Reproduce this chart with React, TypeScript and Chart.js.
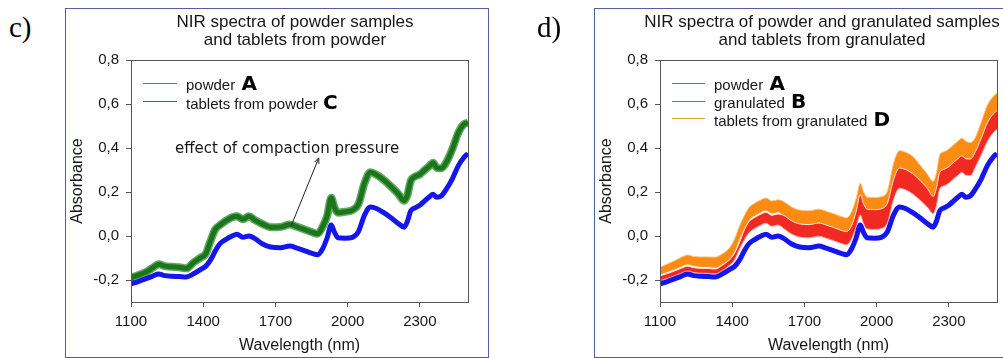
import React, { useEffect, useRef } from "react";
import { Chart, registerables } from "chart.js";

Chart.register(...registerables);

// ---------- data ----------
const wavelengths = [
  1100, 1130, 1160, 1190, 1215, 1240, 1270, 1300, 1330, 1360, 1390,
  1410, 1430, 1450, 1470, 1495, 1520, 1540, 1565, 1590,
  1615, 1645, 1680, 1720, 1760, 1790, 1820, 1850, 1875, 1895,
  1915, 1932, 1945, 1960, 1990, 2020, 2045, 2070, 2095, 2120,
  2150, 2180, 2210, 2235, 2248, 2262, 2280, 2300, 2320, 2340,
  2355, 2370, 2390, 2410, 2435, 2460, 2485, 2500,
];

// powder A (mean of the blue bundle)
const powder = [
  -0.217, -0.207, -0.195, -0.182, -0.173, -0.18, -0.183, -0.184, -0.186, -0.172, -0.152,
  -0.138, -0.11, -0.068, -0.035, -0.015, 0.0, 0.008, -0.006, 0.0,
  -0.012, -0.035, -0.05, -0.053, -0.046, -0.055, -0.066, -0.078, -0.085, -0.06,
  -0.008, 0.05, 0.018, -0.008, -0.01, -0.006, 0.02, 0.095, 0.132, 0.125,
  0.106, 0.083, 0.057, 0.04, 0.066, 0.114, 0.128, 0.14, 0.16, 0.178,
  0.19, 0.176, 0.183, 0.213, 0.26, 0.32, 0.36, 0.375,
];

// tablets from powder C (mean of the green bundle)
const tabletsFromPowder = [
  -0.19, -0.178, -0.165, -0.145, -0.128, -0.137, -0.14, -0.142, -0.147, -0.12, -0.098,
  -0.082, -0.023, 0.03, 0.05, 0.07, 0.085, 0.09, 0.076, 0.09,
  0.072, 0.055, 0.04, 0.041, 0.052, 0.042, 0.03, 0.018, 0.01, 0.04,
  0.092, 0.174, 0.13, 0.106, 0.11, 0.118, 0.145, 0.24, 0.29, 0.278,
  0.255, 0.225, 0.192, 0.16, 0.185, 0.25, 0.27, 0.28, 0.3, 0.318,
  0.333, 0.31, 0.308, 0.335, 0.395, 0.47, 0.51, 0.515,
];

// granulated B (lower / upper edge of the red bundle)
const granulatedLow = [
  -0.203, -0.193, -0.181, -0.168, -0.159, -0.166, -0.169, -0.17, -0.172, -0.156, -0.132,
  -0.108, -0.06, -0.018, 0.015, 0.035, 0.05, 0.058, 0.044, 0.05,
  0.033, 0.01, -0.005, -0.008, -0.001, -0.01, -0.021, -0.033, -0.04, -0.015,
  0.042, 0.096, 0.058, 0.032, 0.03, 0.034, 0.06, 0.165, 0.217, 0.21,
  0.191, 0.163, 0.132, 0.102, 0.136, 0.214, 0.228, 0.24, 0.26, 0.278,
  0.29, 0.276, 0.275, 0.313, 0.37, 0.43, 0.47, 0.485,
];
const granulatedHigh = [
  -0.181, -0.171, -0.159, -0.146, -0.137, -0.144, -0.147, -0.148, -0.15, -0.132, -0.107,
  -0.078, -0.03, 0.027, 0.065, 0.085, 0.1, 0.108, 0.094, 0.1,
  0.093, 0.07, 0.055, 0.052, 0.059, 0.05, 0.039, 0.027, 0.02, 0.045,
  0.112, 0.188, 0.148, 0.122, 0.12, 0.124, 0.15, 0.255, 0.309, 0.302,
  0.283, 0.253, 0.217, 0.18, 0.216, 0.289, 0.303, 0.315, 0.335, 0.353,
  0.365, 0.351, 0.35, 0.383, 0.445, 0.515, 0.555, 0.57,
];

// tablets from granulated D (lower / upper edge of the orange bundle)
const tabletsGranLow = [
  -0.173, -0.162, -0.15, -0.136, -0.127, -0.134, -0.138, -0.139, -0.142, -0.126, -0.102,
  -0.068, -0.01, 0.032, 0.075, 0.095, 0.11, 0.118, 0.104, 0.11,
  0.093, 0.07, 0.055, 0.052, 0.059, 0.05, 0.039, 0.027, 0.02, 0.045,
  0.112, 0.17, 0.148, 0.122, 0.12, 0.124, 0.15, 0.255, 0.309, 0.302,
  0.283, 0.253, 0.217, 0.18, 0.216, 0.289, 0.303, 0.315, 0.335, 0.353,
  0.365, 0.351, 0.35, 0.383, 0.445, 0.515, 0.555, 0.57,
];
const tabletsGranHigh = [
  -0.142, -0.127, -0.112, -0.096, -0.086, -0.093, -0.095, -0.095, -0.096, -0.08, -0.052,
  -0.013, 0.045, 0.092, 0.13, 0.15, 0.165, 0.173, 0.159, 0.165,
  0.156, 0.133, 0.118, 0.115, 0.122, 0.113, 0.102, 0.09, 0.083, 0.108,
  0.172, 0.24, 0.203, 0.177, 0.175, 0.179, 0.205, 0.33, 0.388, 0.381,
  0.362, 0.323, 0.282, 0.248, 0.286, 0.369, 0.383, 0.395, 0.415, 0.433,
  0.445, 0.431, 0.425, 0.448, 0.52, 0.595, 0.635, 0.65,
];

const xTicks = [1100, 1400, 1700, 2000, 2300];
const yTicks = [-0.2, 0.0, 0.2, 0.4, 0.6, 0.8];
const xMin = 1100;
const xMax = 2500;
const yMin = -0.3;
const yMax = 0.8;

// annotation arrow in data units (tail on the green bundle, head under the text)
const arrowTail = { x: 1765, y: 0.045 };
const arrowHead = { x: 1880, y: 0.355 };

// ---------- styling ----------
const FONT = "'Liberation Sans', Arial, sans-serif";
const TEXT = "#161616";
const AXIS = "#555555";
const BOX = "#4d60a0";

const C_BLUE = "#1515ee";
const C_GREEN = "#1a761a";
const C_GREEN_EDGE = "#62a862";
const C_RED = "#f02a22";
const C_ORANGE = "#fa8c14";

const toPoints = (ys: number[]) => wavelengths.map((x, i) => ({ x, y: ys[i] }));

const framePlugin = {
  id: "frame",
  afterDraw(chart: any) {
    const { ctx, chartArea } = chart;
    ctx.save();
    ctx.strokeStyle = AXIS;
    ctx.lineWidth = 1;
    ctx.strokeRect(
      Math.round(chartArea.left) + 0.5,
      Math.round(chartArea.top) + 0.5,
      Math.round(chartArea.right - chartArea.left),
      Math.round(chartArea.bottom - chartArea.top)
    );
    ctx.restore();
  },
};

const arrowPlugin = {
  id: "arrowNote",
  afterDraw(chart: any, _args: any, opts: any) {
    if (!opts || !opts.show) return;
    const { ctx, scales } = chart;
    const x1 = scales.x.getPixelForValue(arrowTail.x);
    const y1 = scales.y.getPixelForValue(arrowTail.y);
    const x2 = scales.x.getPixelForValue(arrowHead.x);
    const y2 = scales.y.getPixelForValue(arrowHead.y);
    const ang = Math.atan2(y2 - y1, x2 - x1);
    const len = 6;
    ctx.save();
    ctx.strokeStyle = "#222";
    ctx.lineWidth = 1;
    ctx.beginPath();
    ctx.moveTo(x1, y1);
    ctx.lineTo(x2, y2);
    ctx.moveTo(x2 - len * Math.cos(ang - 0.4), y2 - len * Math.sin(ang - 0.4));
    ctx.lineTo(x2, y2);
    ctx.lineTo(x2 - len * Math.cos(ang + 0.4), y2 - len * Math.sin(ang + 0.4));
    ctx.stroke();
    ctx.restore();
  },
};

function buildOptions(showArrow: boolean): any {
  const tickFont = { family: FONT, size: 15 };
  const titleFont = { family: FONT, size: 16 };
  return {
    responsive: false,
    animation: false,
    devicePixelRatio: 1,
    layout: { padding: { top: 52, right: 20, bottom: 0, left: 0 } },
    elements: {
      point: { radius: 0, hoverRadius: 0 },
      line: { cubicInterpolationMode: "monotone" },
    },
    plugins: {
      legend: { display: false },
      tooltip: { enabled: false },
      title: { display: false },
      arrowNote: { show: showArrow },
    },
    scales: {
      x: {
        type: "linear",
        min: xMin,
        max: xMax,
        afterFit: (s: any) => {
          s.height = 56;
        },
        afterBuildTicks: (s: any) => {
          s.ticks = xTicks.map((value) => ({ value }));
        },
        ticks: {
          font: tickFont,
          color: TEXT,
          padding: 6,
          maxRotation: 0,
          autoSkip: false,
          callback: (v: any) => String(v),
        },
        grid: { drawOnChartArea: false, drawTicks: true, tickLength: 5, color: AXIS },
        border: { display: true, color: AXIS },
        title: {
          display: true,
          text: "Wavelength (nm)",
          font: titleFont,
          color: TEXT,
          padding: { top: 0, bottom: 3 },
        },
      },
      y: {
        type: "linear",
        min: yMin,
        max: yMax,
        afterFit: (s: any) => {
          s.width = 66;
        },
        afterBuildTicks: (s: any) => {
          s.ticks = yTicks.map((value) => ({ value }));
        },
        ticks: {
          font: tickFont,
          color: TEXT,
          padding: 7,
          autoSkip: false,
          callback: (v: any) => Number(v).toFixed(1).replace(".", ","),
        },
        grid: { drawOnChartArea: false, drawTicks: true, tickLength: 5, color: AXIS },
        border: { display: true, color: AXIS },
        title: {
          display: true,
          text: "Absorbance",
          font: titleFont,
          color: TEXT,
          padding: { top: 3, bottom: 0 },
        },
      },
    },
  };
}

function lineSet(label: string, ys: number[], color: string, width: number, fill: any = false, bg?: string) {
  return {
    label,
    data: toPoints(ys),
    borderColor: color,
    backgroundColor: bg || color,
    borderWidth: width,
    fill,
    pointRadius: 0,
  };
}

function SpectraChart({ left, panel }: { left: number; panel: "c" | "d" }) {
  const ref = useRef<HTMLCanvasElement>(null);
  useEffect(() => {
    if (!ref.current) return;
    // datasets with lower index are drawn on top
    const datasets =
      panel === "c"
        ? [
            lineSet("powder A", powder, C_BLUE, 5),
            lineSet("tablets from powder C", tabletsFromPowder, C_GREEN, 5),
            lineSet("tablets from powder C (edge)", tabletsFromPowder, C_GREEN_EDGE, 8),
          ]
        : [
            lineSet("powder A", powder, C_BLUE, 5),
            lineSet("granulated B (low)", granulatedLow, "#f5a6a0", 1),
            lineSet("granulated B (high)", granulatedHigh, "#fde6dc", 1, "-1", C_RED),
            lineSet("tablets from granulated D (low)", tabletsGranLow, C_ORANGE, 1),
            lineSet("tablets from granulated D (high)", tabletsGranHigh, "#fcc888", 1, "-1", C_ORANGE),
          ];
    const chart = new Chart(ref.current, {
      type: "line",
      data: { datasets } as any,
      options: buildOptions(panel === "c"),
      plugins: [framePlugin, arrowPlugin],
    } as any);
    return () => chart.destroy();
  }, [panel]);
  return (
    <canvas
      ref={ref}
      width={423}
      height={350}
      style={{ position: "absolute", left, top: 8, width: 423, height: 350 }}
    />
  );
}

function LegendRow({
  lineX,
  lineW,
  lineY,
  textX,
  baseline,
  color,
  label,
  letter,
  gap,
}: {
  lineX: number;
  lineW: number;
  lineY: number;
  textX: number;
  baseline: number;
  color: string;
  label: string;
  letter: string;
  gap: number;
}) {
  return (
    <>
      <div
        style={{
          position: "absolute",
          left: lineX,
          top: lineY,
          width: lineW,
          height: 1,
          backgroundColor: color,
        }}
      />
      <div
        style={{
          position: "absolute",
          left: textX,
          top: baseline - 14.2,
          fontFamily: FONT,
          fontSize: 15,
          lineHeight: "18px",
          whiteSpace: "nowrap",
          color: TEXT,
        }}
      >
        {label}{" "}
        <span
          style={{
            fontFamily: "'DejaVu Sans', sans-serif",
            fontWeight: 900,
            fontSize: 20,
            lineHeight: "18px",
            marginLeft: gap,
            color: "#000",
          }}
        >
          {letter}
        </span>
      </div>
    </>
  );
}

function PanelTitle({ cx, lines }: { cx: number; lines: string[] }) {
  return (
    <div
      style={{
        position: "absolute",
        left: cx - 250,
        width: 500,
        top: 12.5,
        textAlign: "center",
        fontFamily: FONT,
        fontSize: 17,
        lineHeight: "18px",
        color: TEXT,
        whiteSpace: "nowrap",
      }}
    >
      {lines.map((l, i) => (
        <div key={i}>{l}</div>
      ))}
    </div>
  );
}

function PanelLabel({ x, text }: { x: number; text: string }) {
  return (
    <div
      style={{
        position: "absolute",
        left: x,
        top: 10,
        fontFamily: "'Liberation Serif', 'Times New Roman', serif",
        fontSize: 29,
        lineHeight: "34px",
        color: "#000",
      }}
    >
      {text}
    </div>
  );
}

export default function App() {
  return (
    <div
      style={{
        position: "absolute",
        left: 0,
        top: 0,
        width: 1003,
        height: 358,
        overflow: "hidden",
        background: "#fff",
      }}
    >
      {/* panel c */}
      <PanelLabel x={9} text="c)" />
      <div
        style={{
          position: "absolute",
          left: 65,
          top: 8,
          width: 424,
          height: 350,
          boxSizing: "border-box",
          border: `1px solid ${BOX}`,
        }}
      />
      <SpectraChart left={65} panel="c" />
      <PanelTitle cx={295} lines={["NIR spectra of powder samples", "and tablets from powder"]} />
      <LegendRow lineX={143} lineW={34} lineY={83} textX={186} baseline={88.5} color="#6a6ae8" label="powder" letter="A" gap={2} />
      <LegendRow lineX={143} lineW={34} lineY={101} textX={186} baseline={107} color="#2a8a2a" label="tablets from powder" letter="C" gap={1} />
      <div
        style={{
          position: "absolute",
          left: 175,
          top: 138.5,
          fontFamily: "'DejaVu Sans', sans-serif",
          fontSize: 15,
          lineHeight: "18px",
          whiteSpace: "nowrap",
          color: TEXT,
        }}
      >
        effect of compaction pressure
      </div>

      {/* panel d */}
      <PanelLabel x={537} text="d)" />
      <div
        style={{
          position: "absolute",
          left: 594,
          top: 8,
          width: 500,
          height: 350,
          boxSizing: "border-box",
          border: `1px solid ${BOX}`,
        }}
      />
      <SpectraChart left={594} panel="d" />
      <PanelTitle
        cx={822}
        lines={["NIR spectra of powder and granulated samples", "and tablets from granulated"]}
      />
      <LegendRow lineX={672} lineW={33} lineY={83} textX={714} baseline={88.5} color="#6a6ae8" label="powder" letter="A" gap={2} />
      <LegendRow lineX={672} lineW={33} lineY={101} textX={714} baseline={106.5} color="#e04a58" label="granulated" letter="B" gap={2} />
      <LegendRow
        lineX={672}
        lineW={33}
        lineY={118}
        textX={714}
        baseline={124.5}
        color="#e8a038"
        label="tablets from granulated"
        letter="D"
        gap={2}
      />
    </div>
  );
}
